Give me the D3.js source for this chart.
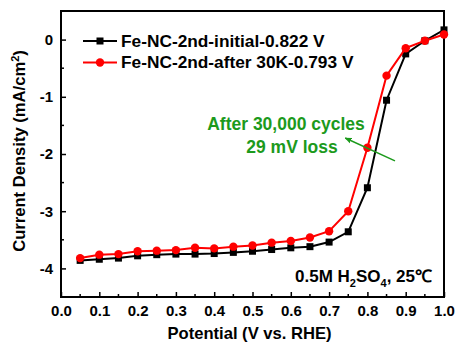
<!DOCTYPE html>
<html>
<head>
<meta charset="utf-8">
<script src="https://cdn.jsdelivr.net/npm/d3@7"></script>
<style>
  html, body { margin: 0; padding: 0; background: #fff; }
  svg { display: block; font-family: "Liberation Sans", Arial, sans-serif; font-weight: bold; }
</style>
</head>
<body>
<svg id="chart" width="458" height="345"></svg>
<script>
// Polarization curves (ORR) before and after 30,000 cycles
const potential = [0.05, 0.10, 0.15, 0.20, 0.25, 0.30, 0.35, 0.40, 0.45, 0.50,
                   0.55, 0.60, 0.65, 0.70, 0.75, 0.80, 0.85, 0.90, 0.95, 1.00];
const initialCurrent = [-3.86, -3.84, -3.82, -3.78, -3.76, -3.75, -3.75, -3.74, -3.72, -3.70,
                        -3.67, -3.64, -3.62, -3.54, -3.36, -2.59, -1.06, -0.25, -0.02, 0.17];
const afterCurrent = [-3.82, -3.76, -3.75, -3.70, -3.69, -3.68, -3.64, -3.65, -3.62, -3.60,
                      -3.55, -3.52, -3.46, -3.35, -3.00, -1.89, -0.63, -0.15, -0.02, 0.09];
const seriesNames = ["Fe-NC-2nd-initial-0.822 V", "Fe-NC-2nd-after 30K-0.793 V"];
const xTicks = [0.0, 0.1, 0.2, 0.3, 0.4, 0.5, 0.6, 0.7, 0.8, 0.9, 1.0];
const yTicks = [0, -1, -2, -3, -4];
const annotationLines = ["After 30,000 cycles", "29 mV loss"];
const arrowFrom = [0.872, -2.12];
const arrowTo = [0.742, -1.72];

const svg = d3.select("#chart");
const plotLeft = 61, plotRight = 444, plotTop = 11, plotBottom = 297;

const x = d3.scaleLinear().domain([0, 1.0]).range([plotLeft, plotRight]);
const y = d3.scaleLinear().domain([-4.5, 0.5]).range([plotBottom, plotTop]);

const green = "#1c9a1c";

// defs: arrow marker
svg.append("defs").append("marker")
  .attr("id", "arrowhead")
  .attr("viewBox", "0 0 10 10")
  .attr("refX", 9).attr("refY", 5)
  .attr("markerWidth", 7).attr("markerHeight", 7)
  .attr("markerUnits", "userSpaceOnUse")
  .attr("orient", "auto")
  .append("path").attr("d", "M0,1 L10,5 L0,9 Z").attr("fill", green);

// Minor ticks (inward)
const minorX = d3.range(0.05, 1.0, 0.1);
svg.append("g").selectAll("line").data(minorX).join("line")
  .attr("x1", d => x(d)).attr("x2", d => x(d))
  .attr("y1", plotBottom).attr("y2", plotBottom - 3)
  .attr("stroke", "#000").attr("stroke-width", 1.5);
const minorY = [-0.5, -1.5, -2.5, -3.5];
svg.append("g").selectAll("line").data(minorY).join("line")
  .attr("x1", plotLeft).attr("x2", plotLeft + 3)
  .attr("y1", d => y(d)).attr("y2", d => y(d))
  .attr("stroke", "#000").attr("stroke-width", 1.5);

// Axes with inward major ticks
const xAxis = svg.append("g").attr("transform", `translate(0,${plotBottom})`)
  .call(d3.axisBottom(x).tickValues(xTicks).tickFormat(d3.format(".1f"))
    .tickSizeInner(-5).tickSizeOuter(0).tickPadding(8));
xAxis.select(".domain").remove();
xAxis.selectAll("line").attr("stroke", "#000").attr("stroke-width", 1.5);
xAxis.selectAll("text").attr("font-size", 15).attr("font-weight", "bold")
  .attr("font-family", "Liberation Sans, Arial, sans-serif").attr("fill", "#000");

const yAxis = svg.append("g").attr("transform", `translate(${plotLeft},0)`)
  .call(d3.axisLeft(y).tickValues(yTicks).tickFormat(d3.format("d"))
    .tickSizeInner(-5).tickSizeOuter(0).tickPadding(8));
yAxis.select(".domain").remove();
yAxis.selectAll("line").attr("stroke", "#000").attr("stroke-width", 1.5);
yAxis.selectAll("text").attr("font-size", 15).attr("font-weight", "bold")
  .attr("font-family", "Liberation Sans, Arial, sans-serif").attr("fill", "#000")
  .text(d => String(d));

// Frame
svg.append("rect").attr("x", plotLeft).attr("y", plotTop)
  .attr("width", plotRight - plotLeft).attr("height", plotBottom - plotTop)
  .attr("fill", "none").attr("stroke", "#000").attr("stroke-width", 2);

// Series
const line = d3.line().x(d => x(d[0])).y(d => y(d[1]));
const initPts = potential.map((p, i) => [p, initialCurrent[i]]);
const afterPts = potential.map((p, i) => [p, afterCurrent[i]]);

svg.append("path").datum(initPts).attr("d", line)
  .attr("fill", "none").attr("stroke", "#000").attr("stroke-width", 2);
svg.append("g").selectAll("rect").data(initPts).join("rect")
  .attr("x", d => x(d[0]) - 3.5).attr("y", d => y(d[1]) - 3.5)
  .attr("width", 7).attr("height", 7).attr("fill", "#000");

svg.append("path").datum(afterPts).attr("d", line)
  .attr("fill", "none").attr("stroke", "#ff0000").attr("stroke-width", 2);
svg.append("g").selectAll("circle").data(afterPts).join("circle")
  .attr("cx", d => x(d[0])).attr("cy", d => y(d[1])).attr("r", 4.2)
  .attr("fill", "#ff0000");

// Legend
const legend = svg.append("g");
const legendColors = ["#000", "#ff0000"];
seriesNames.forEach((name, i) => {
  const ly = 41 + i * 21.5;
  legend.append("line").attr("x1", 83).attr("x2", 117).attr("y1", ly).attr("y2", ly)
    .attr("stroke", legendColors[i]).attr("stroke-width", 2);
  if (i === 0) {
    legend.append("rect").attr("x", 100 - 3.5).attr("y", ly - 3.5)
      .attr("width", 7).attr("height", 7).attr("fill", "#000");
  } else {
    legend.append("circle").attr("cx", 100).attr("cy", ly).attr("r", 4.2).attr("fill", "#ff0000");
  }
  legend.append("text").attr("x", 121).attr("y", ly + 5.5)
    .attr("font-size", 17.3).attr("fill", "#000").text(name);
});

// Annotation
svg.append("text").attr("x", 286).attr("y", 130).attr("text-anchor", "middle")
  .attr("font-size", 17.5).attr("fill", green).text(annotationLines[0]);
svg.append("text").attr("x", 292).attr("y", 152.5).attr("text-anchor", "middle")
  .attr("font-size", 17.5).attr("fill", green).text(annotationLines[1]);
svg.append("line")
  .attr("x1", x(arrowFrom[0])).attr("y1", y(arrowFrom[1]))
  .attr("x2", x(arrowTo[0])).attr("y2", y(arrowTo[1]))
  .attr("stroke", green).attr("stroke-width", 1.5)
  .attr("marker-end", "url(#arrowhead)");

// Electrolyte conditions
const cond = svg.append("text").attr("x", 432).attr("y", 281.5).attr("text-anchor", "end")
  .attr("font-size", 17).attr("fill", "#000");
cond.append("tspan").text("0.5M H");
cond.append("tspan").attr("font-size", 11).attr("dy", 5).text("2");
cond.append("tspan").attr("dy", -5).text("SO");
cond.append("tspan").attr("font-size", 11).attr("dy", 5).text("4");
cond.append("tspan").attr("dy", -5).text(", 25℃");

// Axis titles
svg.append("text").attr("x", 249.5).attr("y", 339).attr("text-anchor", "middle")
  .attr("font-size", 16.6).attr("fill", "#000").text("Potential (V vs. RHE)");

const yt = svg.append("text")
  .attr("transform", `translate(25,151) rotate(-90)`)
  .attr("text-anchor", "middle").attr("font-size", 16.6).attr("fill", "#000");
yt.append("tspan").text("Current Density (mA/cm");
yt.append("tspan").attr("font-size", 11).attr("dy", -6).text("2");
yt.append("tspan").attr("dy", 6).text(")");
</script>
</body>
</html>
